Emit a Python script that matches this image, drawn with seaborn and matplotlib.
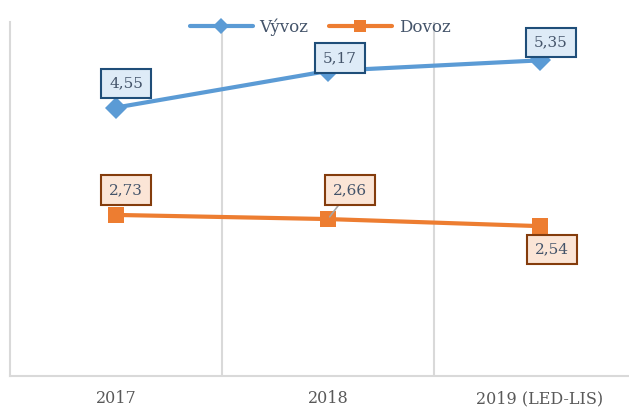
import matplotlib
matplotlib.use('Agg')
import pandas as pd
import seaborn as sns
import matplotlib.pyplot as plt

years = ['2017', '2018', '2019 (LED-LIS)']
vyvoz = [4.55, 5.17, 5.35]
dovoz = [2.73, 2.66, 2.54]

# label offsets in pixels (box centre relative to point)
vyvoz_off = [(10, 24), (12, 13), (11, 18)]
dovoz_off = [(10, 25), (22, 29), (12, -23)]

df = pd.DataFrame({
    'rok': years * 2,
    'hodnota': vyvoz + dovoz,
    'serie': ['Vývoz'] * 3 + ['Dovoz'] * 3,
})

sns.set_style('white')
plt.rcParams['font.family'] = ['DejaVu Serif']

fig = plt.figure(figsize=(6.29, 4.08), dpi=100)
ax = fig.add_axes([10 / 629, 32 / 408, 636 / 629, 354 / 408])

blue = '#5b9bd5'
orange = '#ed7d31'
sns.lineplot(data=df, x='rok', y='hodnota', hue='serie', style='serie',
             palette={'Vývoz': blue, 'Dovoz': orange},
             markers={'Vývoz': 'D', 'Dovoz': 's'}, dashes=False,
             linewidth=3, markersize=11, markeredgewidth=0, ax=ax)

ax.set_xlim(-0.5, 2.5)
ax.set_ylim(0, 6)
ax.set_xlabel('')
ax.set_ylabel('')
ax.set_yticks([])
ax.tick_params(axis='x', length=0, pad=10, labelsize=11.5, labelcolor='#595959')
for s in ['top', 'right']:
    ax.spines[s].set_visible(False)
for s in ['left', 'bottom']:
    ax.spines[s].set_color('#d9d9d9')
    ax.spines[s].set_linewidth(1.5)
for xg in [0.5, 1.5]:
    ax.axvline(xg, color='#d9d9d9', linewidth=1.5, zorder=0)

box_v = dict(boxstyle='square,pad=0.5', fc='#deebf7', ec='#1f4e79', lw=1.5)
box_d = dict(boxstyle='square,pad=0.5', fc='#fbe5d6', ec='#843c0c', lw=1.5)
for i, v in enumerate(vyvoz):
    ax.annotate(f'{v:.2f}'.replace('.', ','), (i, v), xytext=vyvoz_off[i],
                textcoords='offset pixels', ha='center', va='center',
                fontsize=11, color='#44546a', bbox=box_v, zorder=5)
for i, v in enumerate(dovoz):
    arrow = None
    if i == 1:
        arrow = dict(arrowstyle='-', color='#a6a6a6', lw=1.2, shrinkA=0, shrinkB=2)
    ax.annotate(f'{v:.2f}'.replace('.', ','), (i, v), xytext=dovoz_off[i],
                textcoords='offset pixels', ha='center', va='center',
                fontsize=11, color='#44546a', bbox=box_d, arrowprops=arrow, zorder=5)

handles, labels = ax.get_legend_handles_labels()
ax.get_legend().remove()
fig.legend(handles, labels, loc='center', bbox_to_anchor=(320 / 629, 1 - 27 / 408),
           ncol=2, frameon=False, handlelength=3.8, fontsize=12, markerscale=0.75,
           labelcolor='#44546a', columnspacing=1.2, handletextpad=0.4)

fig.savefig('out.png', dpi=100)
